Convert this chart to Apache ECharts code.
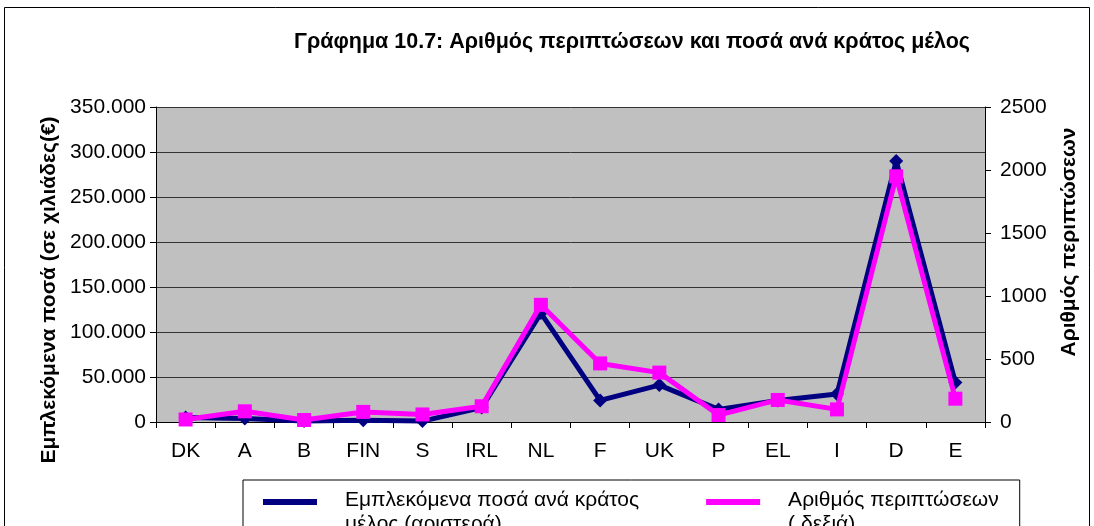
<!DOCTYPE html>
<html>
<head>
<meta charset="utf-8">
<script src="https://cdn.jsdelivr.net/npm/echarts@6/dist/echarts.min.js"></script>
<style>
  html, body { margin: 0; padding: 0; background: #fff; }
  #chart { width: 1094px; height: 526px; }
</style>
</head>
<body>
<div id="chart"></div>
<script>
document.addEventListener("DOMContentLoaded", function () {
    let chart = echarts.init(document.getElementById("chart"));

    let data = [
        { country: "DK", amount: 5000, cases: 20 },
        { country: "A", amount: 4000, cases: 85 },
        { country: "B", amount: 1000, cases: 16 },
        { country: "FIN", amount: 2000, cases: 80 },
        { country: "S", amount: 1000, cases: 60 },
        { country: "IRL", amount: 16000, cases: 125 },
        { country: "NL", amount: 121000, cases: 930 },
        { country: "F", amount: 24000, cases: 465 },
        { country: "UK", amount: 41000, cases: 392 },
        { country: "P", amount: 14000, cases: 55 },
        { country: "EL", amount: 24000, cases: 175 },
        { country: "I", amount: 31000, cases: 100 },
        { country: "D", amount: 290000, cases: 1950 },
        { country: "E", amount: 44000, cases: 185 }
    ];

    let font = "Liberation Sans, Arial, sans-serif";
    let nameAmount = "Εμπλεκόμενα ποσά ανά κράτος\nμέλος (αριστερά)";
    let nameCases = "Αριθμός περιπτώσεων\n( δεξιά)";
    // to eikonidio tou legend einai stin proti grammi tou keimenou
    let legendIcon = "path://M0,0 L54,0 L54,6 L0,6 Z M0,26 L54,26 L54,26 L0,26 Z";

    let option = {
        backgroundColor: "#fff",
        textStyle: { fontFamily: font },
        animation: false,
        title: {
            text: "Γράφημα 10.7: Αριθμός περιπτώσεων και ποσά ανά κράτος μέλος",
            left: 627,
            top: 26,
            textAlign: "center",
            textStyle: { fontSize: 21.5, fontWeight: "bold", color: "#000", fontFamily: font }
        },
        graphic: [
            {
                type: "rect",
                shape: { x: 4.5, y: 7.5, width: 1085, height: 560 },
                style: { fill: "none", stroke: "#000", lineWidth: 1 },
                silent: true
            },
            {
                // titlos aristerou axona
                type: "text",
                x: 49,
                y: 290,
                rotation: Math.PI / 2,
                style: {
                    text: "Εμπλεκόμενα ποσά (σε χιλιάδες(€)",
                    font: "bold 21px " + font,
                    fill: "#000",
                    align: "center",
                    verticalAlign: "middle"
                },
                silent: true
            },
            {
                // titlos deksiou axona
                type: "text",
                x: 1069,
                y: 242,
                rotation: Math.PI / 2,
                style: {
                    text: "Αριθμός περιπτώσεων",
                    font: "bold 21px " + font,
                    fill: "#000",
                    align: "center",
                    verticalAlign: "middle"
                },
                silent: true
            }
        ],
        legend: {
            left: 243,
            top: 480,
            data: [nameAmount, nameCases],
            icon: legendIcon,
            itemWidth: 54,
            itemHeight: 26,
            itemGap: 67,
            padding: [8, 21, 30, 20],
            borderColor: "#000",
            borderWidth: 1,
            itemStyle: { borderWidth: 0 },
            textStyle: {
                fontSize: 21,
                color: "#000",
                fontFamily: font,
                lineHeight: 24,
                padding: [0, 0, 0, 23]
            }
        },
        grid: {
            left: 156,
            right: 109,
            top: 107,
            bottom: 104,
            show: true,
            backgroundColor: "#c0c0c0",
            borderWidth: 0
        },
        xAxis: {
            type: "category",
            data: data.map(d => d.country),
            boundaryGap: true,
            axisLine: { lineStyle: { color: "#000", width: 1 } },
            axisTick: { show: true, length: 6, lineStyle: { color: "#000" } },
            axisLabel: { fontSize: 21, color: "#000", margin: 19, fontFamily: font }
        },
        yAxis: [
            {
                type: "value",
                min: 0,
                max: 350000,
                interval: 50000,
                axisLine: { show: true, lineStyle: { color: "#000" } },
                axisTick: { show: true, length: 6, lineStyle: { color: "#000" } },
                axisLabel: {
                    fontSize: 21,
                    color: "#000",
                    margin: 10,
                    fontFamily: font,
                    formatter: v => String(v).replace(/\B(?=(\d{3})+(?!\d))/g, ".")
                },
                splitLine: { show: true, lineStyle: { color: "#333", width: 1 } }
            },
            {
                type: "value",
                min: 0,
                max: 2500,
                interval: 500,
                position: "right",
                axisLine: { show: true, lineStyle: { color: "#000" } },
                axisTick: { show: true, length: 6, lineStyle: { color: "#000" } },
                axisLabel: { fontSize: 21, color: "#000", margin: 15, fontFamily: font, formatter: v => String(v) },
                splitLine: { show: false }
            }
        ],
        series: [
            {
                name: nameAmount,
                type: "line",
                yAxisIndex: 0,
                data: data.map(d => d.amount),
                symbol: "diamond",
                symbolSize: 14,
                lineStyle: { color: "#000080", width: 5 },
                itemStyle: { color: "#000080" },
                z: 2
            },
            {
                name: nameCases,
                type: "line",
                yAxisIndex: 1,
                data: data.map(d => d.cases),
                symbol: "rect",
                symbolSize: 14,
                lineStyle: { color: "#ff00ff", width: 5 },
                itemStyle: { color: "#ff00ff" },
                z: 3
            }
        ]
    };
    chart.setOption(option);
});
</script>
</body>
</html>
